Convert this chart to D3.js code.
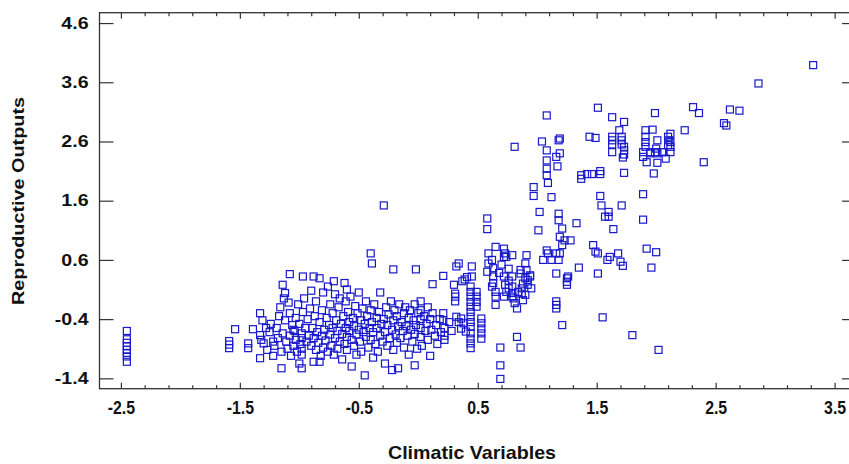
<!DOCTYPE html>
<html>
<head>
<meta charset="utf-8">
<script src="https://cdn.jsdelivr.net/npm/d3@7"></script>
<style>
  body { margin: 0; background: #fff; }
  text { font-family: Arial, "Liberation Sans", sans-serif; font-weight: bold; fill: #111; }
</style>
</head>
<body>
<div id="chart"></div>
<script>
// [climatic, reproductive] pairs
const lowCluster = [
  [-2.45,-0.60],[-2.45,-0.74],[-2.45,-0.80],[-2.45,-0.86],[-2.45,-0.92],[-2.45,-0.97],[-2.45,-1.03],[-2.45,-1.12],
  [-1.54,-0.57],[-1.59,-0.77],[-1.59,-0.83],[-1.59,-0.89],
  [-1.43,-0.81],[-1.43,-0.89],[-1.39,-0.57],[-1.33,-0.30],[-1.31,-0.42],[-1.33,-0.67],[-1.32,-0.75],[-1.30,-0.81],[-1.33,-1.06],[-1.28,-0.55],[-1.27,-0.92],[-1.25,-0.62],[-1.24,-0.48],[-1.22,-1.02],[-1.22,-0.78],[-1.21,-0.85],
  [-1.19,-0.55],[-1.18,-0.72],[-1.17,-0.35],[-1.16,-0.20],[-1.15,-0.95],[-1.15,-1.23],[-1.14,0.18],[-1.14,-0.64],[-1.13,-0.05],[-1.12,0.04],[-1.12,-0.42],[-1.11,-0.78],[-1.10,-0.90],[-1.09,-0.12],[-1.08,0.36],[-1.08,-0.30],[-1.08,-0.68],[-1.07,-1.02],[-1.06,-0.50],[-1.05,-0.85],[-1.05,-0.58],
  [-1.04,-0.60],[-1.03,-0.38],[-1.03,-0.75],[-1.02,-0.95],[-1.01,-0.15],[-1.00,-0.48],[-1.00,-1.15],[-0.99,-0.82],[-0.98,-0.64],[-0.98,-0.72],[-0.98,-0.90],[-0.98,-1.00],[-0.98,-1.23],[-0.97,0.32],[-0.97,-0.28],[-0.96,-0.05],[-0.95,-0.55],[-0.94,-0.78],[-0.93,-0.40],[-0.92,-0.68],[-0.91,-0.22],[-0.90,-0.85],[-0.90,0.08],
  [-0.89,-0.55],[-0.88,0.32],[-0.88,-0.72],[-0.88,-1.12],[-0.87,-0.35],[-0.86,-0.92],[-0.86,-0.10],[-0.85,-0.62],[-0.84,-0.80],[-0.83,0.29],[-0.83,-0.45],[-0.83,-1.12],[-0.82,-1.02],[-0.81,-0.68],[-0.81,-0.25],[-0.80,-0.88],[-0.80,0.05],[-0.79,-0.58],[-0.78,-0.76],[-0.77,-0.38],[-0.76,-0.95],[-0.76,0.15],
  [-0.75,-0.50],[-0.74,-0.66],[-0.74,-0.15],[-0.73,-0.85],[-0.72,-0.30],[-0.72,-0.55],[-0.71,0.24],[-0.71,-1.00],[-0.70,-0.72],[-0.70,0.02],[-0.69,-0.42],[-0.68,-0.60],[-0.68,-0.90],[-0.67,-0.20],[-0.66,-0.78],[-0.66,-0.05],[-0.65,-0.48],[-0.64,-0.65],[-0.64,-1.08],[-0.63,-0.35],[-0.62,0.21],[-0.62,-0.82],[-0.61,-0.10],[-0.61,-0.55],[-0.60,0.10],
  [-0.60,-0.70],[-0.60,-0.92],[-0.59,-0.28],[-0.58,-0.45],[-0.58,-0.60],[-0.57,-0.02],[-0.56,-0.75],[-0.56,-1.20],[-0.55,-0.38],[-0.54,-0.52],[-0.54,-0.85],[-0.53,-0.18],[-0.52,-0.66],[-0.52,-1.00],[-0.51,-0.30],[-0.50,-0.58],[-0.50,0.05],[-0.49,-0.78],[-0.48,-0.42],[-0.48,-0.95],[-0.47,-0.22],[-0.46,-0.62],[-0.45,-1.35],[-0.45,-0.48],
  [-0.44,-0.70],[-0.44,-0.10],[-0.43,-0.35],[-0.42,-0.88],[-0.41,-0.55],[-0.40,0.71],[-0.40,-0.25],[-0.40,-0.75],[-0.39,0.54],[-0.39,-0.45],[-0.38,-1.05],[-0.38,-0.62],[-0.37,-0.15],[-0.36,-0.82],[-0.35,-0.38],[-0.35,-0.55],[-0.34,-0.95],[-0.33,-0.28],[-0.32,-0.68],[-0.32,0.05],[-0.31,-0.48],[-0.30,-0.78],
  [-0.29,1.52],[-0.29,-0.40],[-0.28,-0.62],[-0.28,-1.15],[-0.27,-0.20],[-0.26,-0.85],[-0.26,-0.50],[-0.25,-0.32],[-0.24,-0.72],[-0.23,-0.10],[-0.22,-1.26],[-0.22,-0.58],[-0.21,0.44],[-0.21,-0.42],[-0.21,-0.92],[-0.20,-0.25],[-0.19,-0.66],[-0.18,-0.80],[-0.18,-0.35],[-0.17,-1.23],[-0.17,-0.52],[-0.16,-0.15],[-0.15,-0.72],
  [-0.14,-0.45],[-0.13,-0.60],[-0.12,-0.30],[-0.12,-0.88],[-0.11,-0.20],[-0.10,-0.52],[-0.09,-0.68],[-0.08,-0.38],[-0.08,-1.00],[-0.07,-0.25],[-0.06,-0.58],[-0.05,-0.78],[-0.04,-0.42],[-0.03,-1.18],[-0.03,-0.15],[-0.03,-0.65],[-0.02,0.44],[-0.02,-0.50],[-0.01,-0.90],[0.00,-0.30],
  [0.02,-0.10],[0.02,-0.25],[0.02,-0.40],[0.02,-0.55],[0.02,-0.70],[0.03,-0.85],[0.05,-0.35],[0.06,-0.60],[0.07,-0.48],[0.08,-0.20],[0.08,-0.75],[0.10,-1.02],[0.10,-0.40],[0.11,-0.58],[0.12,0.19],[0.12,-0.30],[0.14,-0.68],[0.15,-0.50],[0.16,-0.82],[0.18,-0.40],[0.19,-0.62],[0.21,0.33],[0.21,-0.30],[0.21,-0.42],[0.22,-0.55],[0.22,-0.68],[0.22,-0.75],
  [0.30,0.18],[0.31,0.03],[0.31,-0.02],[0.31,-0.10],[0.32,0.49],[0.32,-0.36],[0.34,0.54],[0.34,-0.45],[0.36,-0.39],[0.36,-0.56],[0.37,0.24],[0.38,-0.47],[0.39,0.27],[0.40,-0.61],[0.41,0.31],
  [0.44,0.15],[0.44,0.06],[0.44,-0.02],[0.44,-0.11],[0.44,-0.19],[0.44,-0.28],[0.44,-0.36],[0.44,-0.45],[0.44,-0.53],[0.44,-0.64],[0.44,-0.73],[0.44,-0.81],[0.44,-0.89],[0.45,0.49],[0.45,0.32],
  [0.49,0.06],[0.49,-0.02],[0.49,-0.11],[0.49,-0.19],[0.53,-0.39],[0.53,-0.47],[0.53,-0.56],[0.53,-0.64],[0.53,-0.73],[0.26,-0.45],[0.28,-0.60]
];

const midCluster = [
  [0.58,1.30],[0.58,1.12],[0.59,0.71],[0.59,0.54],[0.58,0.40],[0.63,0.46],[0.63,0.32],[0.63,0.21],[0.62,0.15],[0.62,0.60],[0.65,0.82],[0.65,0.06],[0.65,-0.02],[0.65,-0.16],
  [0.69,-0.88],[0.69,-1.18],[0.69,-1.41],[0.72,0.79],[0.72,0.65],[0.73,0.71],[0.72,0.32],[0.73,0.18],[0.74,0.06],[0.72,-0.02],[0.74,0.65],[0.68,0.38],[0.70,0.52],
  [0.76,0.45],[0.76,0.25],[0.76,0.12],[0.79,0.68],[0.79,0.32],[0.79,0.15],[0.79,0.04],[0.79,-0.02],[0.80,-0.05],[0.81,-0.13],[0.83,-0.22],[0.81,2.51],[0.83,-0.70],[0.84,0.06],
  [0.86,0.37],[0.86,0.43],[0.86,-0.88],[0.87,0.12],[0.87,0.03],[0.88,0.20],[0.88,-0.08],[0.90,0.29],[0.90,0.01],[0.90,0.54],[0.91,0.68],[0.91,0.43],[0.92,0.26],[0.92,0.18],[0.94,0.34],[0.94,0.32],[0.95,0.12]
];

const highCluster = [
  [0.97,1.83],[0.97,1.68],[1.02,1.41],[1.01,1.10],[1.04,2.60],[1.08,3.04],[1.08,2.45],[1.08,2.28],[1.08,2.14],[1.08,2.03],[1.09,1.90],[1.12,1.66],[1.16,2.34],[1.17,2.18],[1.18,2.62],[1.19,2.65],[1.19,2.40],
  [1.18,1.38],[1.18,1.27],[1.21,1.13],[1.19,0.99],[1.23,0.93],[1.28,0.93],[1.21,0.85],[1.33,1.22],[1.08,0.76],[1.05,0.60],[1.12,0.60],[1.18,0.60],[1.16,0.71],[1.09,0.71],[1.19,0.71],
  [1.16,0.37],[1.26,0.32],[1.25,0.29],[1.25,0.23],[1.25,0.18],[1.16,-0.10],[1.16,-0.16],[1.16,-0.22],[1.21,-0.50],[1.35,0.47],
  [1.44,2.68],[1.49,2.66],[1.37,2.03],[1.37,1.97],[1.42,2.05],[1.46,2.05],[1.53,2.10],[1.53,2.05],[1.51,3.17],[1.47,0.85],[1.49,0.74],[1.51,0.71],[1.59,0.60],[1.61,0.65],[1.68,0.71],[1.70,0.57],[1.72,0.50],
  [1.51,0.37],[1.55,-0.37],[1.53,1.68],[1.54,1.52],[1.60,1.41],[1.60,1.33],[1.57,1.33],[1.64,1.12],[1.71,1.52],
  [1.63,3.01],[1.73,2.93],[1.69,2.79],[1.63,2.68],[1.63,2.62],[1.63,2.55],[1.71,2.68],[1.71,2.62],[1.71,2.55],[1.73,2.51],[1.73,2.45],[1.73,2.38],[1.63,2.42],[1.72,2.33],[1.73,2.07],[1.80,-0.67],
  [1.89,1.71],[1.89,1.28],[1.91,2.79],[1.97,2.80],[1.99,3.08],[2.12,2.73],[2.10,2.68],[2.11,2.62],[2.12,2.59],[2.10,2.54],[2.01,2.62],[1.91,2.68],[1.91,2.59],[1.91,2.51],[1.89,2.42],[1.89,2.34],[1.92,2.25],
  [1.95,2.42],[1.95,2.40],[1.99,2.42],[2.00,2.48],[2.01,2.40],[2.01,2.24],[2.06,2.42],[2.08,2.31],[2.12,2.51],[2.12,2.42],[2.05,2.42],[1.98,2.06],[1.92,0.79],[2.00,0.73],[1.96,0.47],[2.02,-0.92],
  [2.24,2.79],[2.31,3.18],[2.36,3.08],[2.40,2.25],[2.57,2.91],[2.59,2.87],[2.62,3.14],[2.70,3.12],[2.86,3.58],[3.32,3.89]
];

const xTicks = [-2.5, -1.5, -0.5, 0.5, 1.5, 2.5, 3.5];
const yTicks = [-1.4, -0.4, 0.6, 1.6, 2.6, 3.6, 4.6];

const width = 849, height = 464;
// plot frame; the right edge runs just past the picture
const frame = {left: 99.5, right: 856, top: 12.7, bottom: 388.7};
const axisColor = '#333';
const pointColor = '#1818cc';

const svg = d3.select('#chart').append('svg')
    .attr('width', width)
    .attr('height', height);

const x = d3.scaleLinear().domain([-2.68, 3.68]).range([frame.left, frame.right]);
const y = d3.scaleLinear().domain([-1.575, 4.775]).range([frame.bottom, frame.top]);

const fmt = d => d.toFixed(1);
const minorX = d3.range(-2.3, 3.6, 0.2).filter(v => Math.abs((v + 2.5) % 1) > 0.05 && Math.abs((v + 2.5) % 1) < 0.95);

function styleAxis(g) {
  g.select('.domain').remove();
  g.selectAll('.tick line').attr('stroke', axisColor).attr('stroke-width', 1.2);
}

function stretch(factor) {
  return function() {
    const w = this.getComputedTextLength();
    d3.select(this).attr('textLength', w * factor).attr('lengthAdjust', 'spacingAndGlyphs');
  };
}

// bottom axis, ticks pointing inward
svg.append('g')
    .attr('transform', `translate(0,${frame.bottom})`)
    .call(d3.axisBottom(x).tickValues(xTicks).tickSize(-6).tickPadding(13).tickFormat(fmt))
    .call(styleAxis)
    .call(g => g.selectAll('text').attr('font-size', '18px').attr('fill', '#111').each(stretch(0.88)));
svg.append('g')
    .attr('transform', `translate(0,${frame.bottom})`)
    .call(d3.axisBottom(x).tickValues(minorX).tickSize(-3.5).tickFormat(''))
    .call(styleAxis);

// top axis mirrors bottom ticks
svg.append('g')
    .attr('transform', `translate(0,${frame.top})`)
    .call(d3.axisTop(x).tickValues(xTicks).tickSize(-6).tickFormat(''))
    .call(styleAxis);
svg.append('g')
    .attr('transform', `translate(0,${frame.top})`)
    .call(d3.axisTop(x).tickValues(minorX).tickSize(-3.5).tickFormat(''))
    .call(styleAxis);

// left axis
svg.append('g')
    .attr('transform', `translate(${frame.left},0)`)
    .call(d3.axisLeft(y).tickValues(yTicks).tickSize(-14).tickPadding(11).tickFormat(fmt))
    .call(styleAxis)
    .call(g => g.selectAll('text').attr('font-size', '16px').attr('fill', '#111').each(stretch(1.22)));

// right axis
svg.append('g')
    .attr('transform', `translate(${frame.right},0)`)
    .call(d3.axisRight(y).tickValues(yTicks).tickSize(-14).tickFormat(''))
    .call(styleAxis);

// frame
svg.append('rect')
    .attr('x', frame.left)
    .attr('y', frame.top)
    .attr('width', frame.right - frame.left)
    .attr('height', frame.bottom - frame.top)
    .attr('fill', 'none')
    .attr('stroke', axisColor)
    .attr('stroke-width', 1.3);

// points
const allPoints = lowCluster.concat(midCluster, highCluster);
const size = 7;
svg.append('g').selectAll('rect')
    .data(allPoints)
  .enter().append('rect')
    .attr('x', d => x(d[0]) - size / 2)
    .attr('y', d => y(d[1]) - size / 2)
    .attr('width', size)
    .attr('height', size)
    .attr('fill', 'none')
    .attr('stroke', pointColor)
    .attr('stroke-width', 1.2);

// axis titles
svg.append('text')
    .attr('x', 472)
    .attr('y', 459)
    .attr('text-anchor', 'middle')
    .attr('font-size', '19px')
    .attr('textLength', 168)
    .attr('lengthAdjust', 'spacingAndGlyphs')
    .text('Climatic Variables');

svg.append('text')
    .attr('transform', 'translate(24,201) rotate(-90)')
    .attr('text-anchor', 'middle')
    .attr('font-size', '16px')
    .attr('textLength', 208)
    .attr('lengthAdjust', 'spacingAndGlyphs')
    .text('Reproductive Outputs');
</script>
</body>
</html>
